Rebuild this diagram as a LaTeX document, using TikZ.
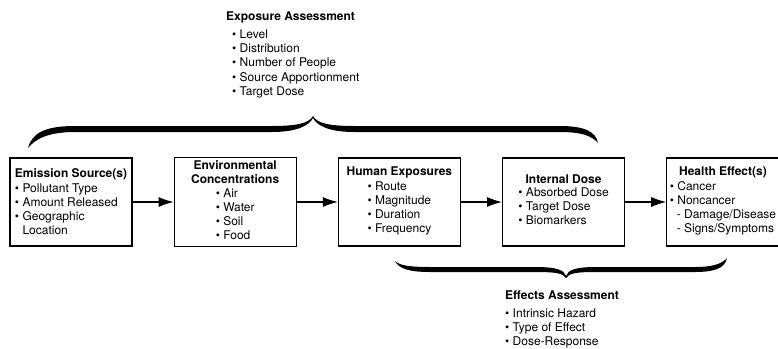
\documentclass[tikz,border=0pt]{standalone}
\usepackage{fontspec}
\setmainfont{TeX Gyre Heros}
\usetikzlibrary{arrows.meta,positioning}

\newcommand{\hd}[1]{\textbf{#1}}
\newcommand{\itm}{\textbullet\ }
\newcommand{\lst}[1]{\begin{tabular}{@{}l@{}}#1\end{tabular}}

\begin{document}
\begin{tikzpicture}[
    x=1pt, y=-1pt,
    node distance=41pt,
    font=\fontsize{12}{14}\selectfont,
    box/.style={rectangle, draw=black, line width=1.2pt, fill=white,
                align=center, minimum width=122pt, minimum height=88pt, inner sep=3pt},
    note/.style={anchor=north west, align=left, inner sep=0pt},
    flow/.style={-{Latex[length=15pt,width=10pt]}, line width=1.1pt}
]
\useasboundingbox (0,0) rectangle (778,348);

% chain of boxes
\node[box, align=left] (src) at (71,202) {\hd{Emission Source(s)}\\[1pt]
    \itm Pollutant Type\\ \itm Amount Released\\ \itm Geographic\\ \phantom{\itm}Location};
\node[box, right=of src] (env) {\hd{Environmental}\\ \hd{Concentrations}\\[3pt]
    \lst{\itm Air\\ \itm Water\\ \itm Soil\\ \itm Food}};
\node[box, right=of env] (hum) {\hd{Human Exposures}\\[2pt]
    \lst{\itm Route\\ \itm Magnitude\\ \itm Duration\\ \itm Frequency}};
\node[box, right=of hum] (dose) {\hd{Internal Dose}\\[2pt]
    \lst{\itm Absorbed Dose\\ \itm Target Dose\\ \itm Biomarkers}};
\node[box, right=of dose, minimum width=110pt] (eff) {\hd{Health Effect(s)}\\[2pt]
    \lst{\itm Cancer\\ \itm Noncancer\\ \hspace*{7pt}- Damage/Disease\\ \hspace*{7pt}- Signs/Symptoms}};

\draw[flow] (src)--(env); \draw[flow] (env)--(hum);
\draw[flow] (hum)--(dose); \draw[flow] (dose)--(eff);

% brace over the exposure side
\fill (28,148) .. controls (32,133) and (45,126) .. (75,126) -- (272,126)
      .. controls (298,126) and (309,123) .. (313,116)
      .. controls (317,123) and (328,126) .. (354,126) -- (560,126)
      .. controls (585,126) and (596,132) .. (598,143)
      .. controls (592,136) and (582,132) .. (560,132) -- (354,132)
      .. controls (330,132) and (317,126) .. (313,118)
      .. controls (309,126) and (296,132) .. (272,132) -- (75,132)
      .. controls (50,132) and (36,138) .. (28,148) -- cycle;
\node[note, font=\fontsize{12}{14.3}\selectfont] (expo) at (226,12) {\hd{Exposure Assessment}\\[3pt]
    \hspace*{6pt}\itm Level\\ \hspace*{6pt}\itm Distribution\\ \hspace*{6pt}\itm Number of People\\
    \hspace*{6pt}\itm Source Apportionment\\ \hspace*{6pt}\itm Target Dose};

% brace under the effects side
\fill (395,261) .. controls (399,269) and (410,272) .. (430,272) -- (535,272)
      .. controls (555,272) and (563,273) .. (566,278)
      .. controls (569,273) and (577,272) .. (597,272) -- (695,272)
      .. controls (715,272) and (725,268) .. (727,258)
      .. controls (722,264) and (712,267) .. (695,267) -- (597,267)
      .. controls (575,267) and (568,270) .. (566,276)
      .. controls (564,270) and (557,267) .. (535,267) -- (430,267)
      .. controls (412,267) and (400,266) .. (395,261) -- cycle;
\node[note, font=\fontsize{12}{14.3}\selectfont] (effa) at (505,291) {\hd{Effects Assessment}\\[3pt]
    \itm Intrinsic Hazard\\ \itm Type of Effect\\ \itm Dose-Response};
\end{tikzpicture}
\end{document}
